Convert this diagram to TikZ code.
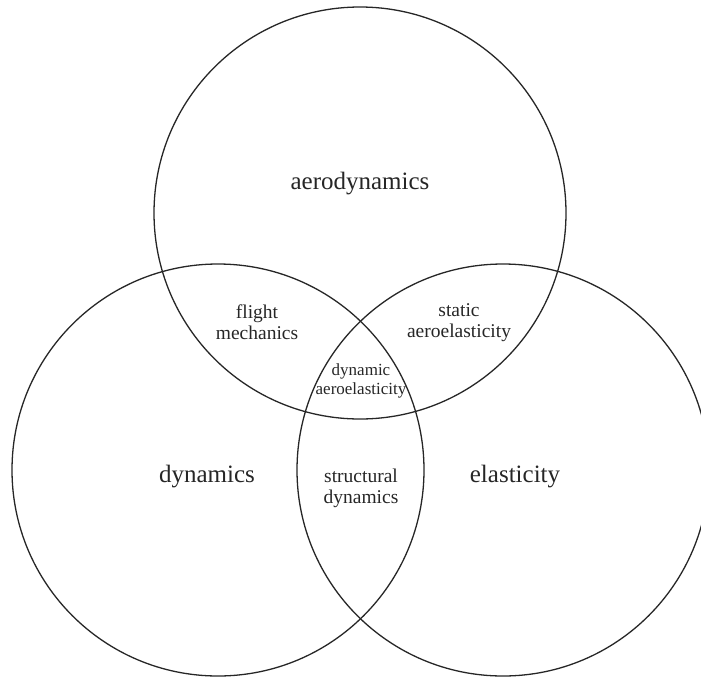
\documentclass[tikz,border=0pt]{standalone}
\usepackage{fontspec}
\setmainfont{Liberation Serif}
\begin{document}
\begin{tikzpicture}[x=1pt,y=-1pt,
  ring/.style={draw=black!85,line width=1.3pt},
  big/.style={font=\fontsize{25}{28}\selectfont,text=black!85},
  mid/.style={font=\fontsize{19.5}{21}\selectfont,align=center,text=black!85},
  small/.style={font=\fontsize{17}{18.5}\selectfont,align=center,text=black!85}]
\useasboundingbox (0,0) rectangle (701,678);
\begin{scope}
\clip (0,0) rectangle (701,678);
\draw[ring] (360,213) circle (206);
\draw[ring] (218,470) circle (206);
\draw[ring] (503,470) circle (206);
\end{scope}
\node[big] (aero) at (360,184) {aerodynamics};
\node[big] (dyn) at (207,477) {dynamics};
\node[big] (ela) at (515,477) {elasticity};
\node[mid] (fm) at (257,322) {flight\\mechanics};
\node[mid] (sa) at (459,323) {static\\aeroelasticity};
\node[small] (da) at (361,381) {dynamic\\aeroelasticity};
\node[mid] (sd) at (361,488) {structural\\dynamics};
\end{tikzpicture}
\end{document}
